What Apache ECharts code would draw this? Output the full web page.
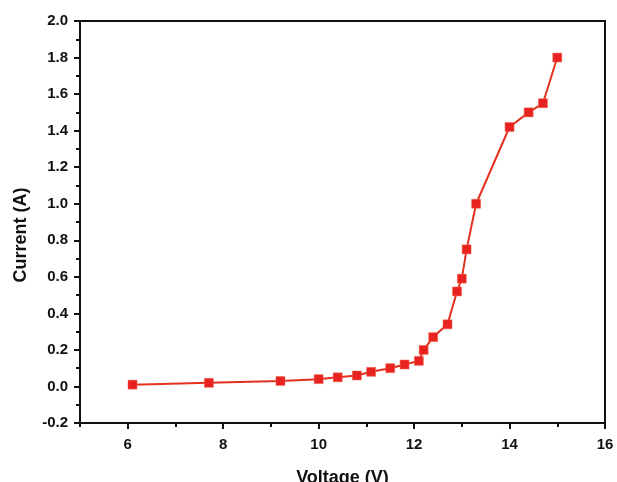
<!DOCTYPE html>
<html>
<head>
<meta charset="utf-8">
<script src="https://cdn.jsdelivr.net/npm/echarts@6/dist/echarts.min.js"></script>
<style>html,body{margin:0;padding:0;background:#fff}#c{width:617px;height:482px}</style>
</head>
<body>
<div id="c"></div>
<script>
const voltage = [6.1, 7.7, 9.2, 10.0, 10.4, 10.8, 11.1, 11.5, 11.8, 12.1, 12.2, 12.4, 12.7, 12.9, 13.0, 13.1, 13.3, 14.0, 14.4, 14.7, 15.0];
const current = [0.01, 0.02, 0.03, 0.04, 0.05, 0.06, 0.08, 0.10, 0.12, 0.14, 0.20, 0.27, 0.34, 0.52, 0.59, 0.75, 1.00, 1.42, 1.50, 1.55, 1.80];
const xMajorTicks = [6, 8, 10, 12, 14, 16];
const xTitle = 'Voltage (V)';
const yTitle = 'Current (A)';

const FONT = '"Liberation Sans", Arial, sans-serif';
const chart = echarts.init(document.getElementById('c'), null, {renderer: 'canvas'});
chart.setOption({
  animation: false,
  backgroundColor: '#fff',
  grid: {left: 80, right: 12, top: 21, bottom: 59, show: true, borderColor: '#111', borderWidth: 2,
    containLabel: false, outerBoundsMode: 'none'},
  xAxis: [{
    type: 'value', min: 5, max: 16, interval: 1,
    name: xTitle, nameLocation: 'middle', nameGap: 46,
    nameTextStyle: {fontFamily: FONT, fontWeight: 'bold', fontSize: 18, color: '#111'},
    axisLine: {show: true, onZero: false, lineStyle: {color: '#111', width: 2}},
    axisTick: {show: true, length: 6, inside: false, lineStyle: {color: '#111', width: 2}, customValues: xMajorTicks},
    axisLabel: {fontFamily: FONT, fontWeight: 'bold', fontSize: 15, color: '#111', margin: 14, customValues: xMajorTicks},
    splitLine: {show: false}
  }, {
    type: 'value', min: 5, max: 16, interval: 1, position: 'bottom',
    axisLine: {show: false, onZero: false},
    axisTick: {show: true, length: 4, lineStyle: {color: '#111', width: 2}},
    axisLabel: {show: false},
    splitLine: {show: false}
  }],
  yAxis: {
    type: 'value', min: -0.2, max: 2.0, interval: 0.2,
    name: yTitle, nameLocation: 'middle', nameGap: 50, nameRotate: 90,
    nameTextStyle: {fontFamily: FONT, fontWeight: 'bold', fontSize: 18, color: '#111', padding: [0, 26, 0, 0]},
    axisLine: {show: true, onZero: false, lineStyle: {color: '#111', width: 2}},
    axisTick: {show: true, length: 6, lineStyle: {color: '#111', width: 2}},
    minorTick: {show: true, splitNumber: 2, length: 4, lineStyle: {color: '#111', width: 2}},
    axisLabel: {fontFamily: FONT, fontWeight: 'bold', fontSize: 15, color: '#111', margin: 12,
      formatter: v => v.toFixed(1)},
    splitLine: {show: false}
  },
  series: [{
    type: 'line',
    data: voltage.map((v, i) => [v, current[i]]),
    symbol: 'rect', symbolSize: 9,
    lineStyle: {color: '#e3301f', width: 2},
    itemStyle: {color: '#e8221e', borderColor: '#f06a50', borderWidth: 0.5}
  }]
});
</script>
</body>
</html>
